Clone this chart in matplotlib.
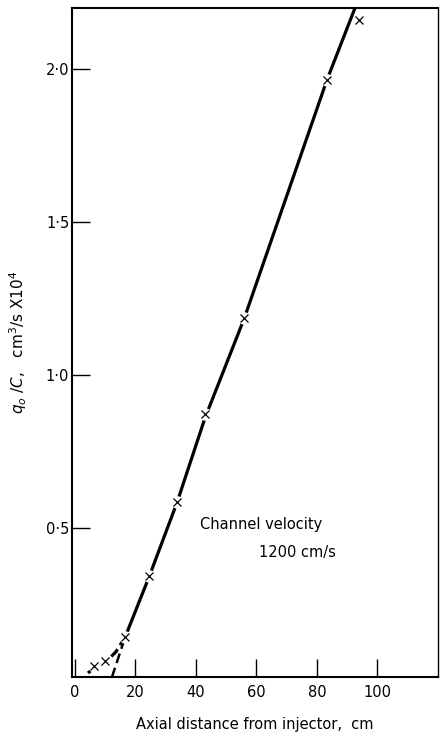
import numpy as np
import matplotlib
matplotlib.use('Agg')
from matplotlib import pyplot as plt

# measured points (x marks)
dist = [6.2, 10.0, 16.6, 24.6, 33.8, 43.0, 56.0, 83.3, 93.8]
flow = [0.049, 0.065, 0.144, 0.343, 0.585, 0.873, 1.186, 1.964, 2.16]

# drawn curves
main_x = [16.6, 24.6, 33.8, 43.0, 56.0, 83.3, 92.6]
main_y = [0.144, 0.343, 0.585, 0.86, 1.186, 1.964, 2.2]
low_x = [4.3, 6.2, 8.5, 11.0, 13.5, 16.6]
low_y = [0.026, 0.042, 0.055, 0.07, 0.095, 0.144]
ext_x = [12.2, 16.6]
ext_y = [0.012, 0.144]

xticks = [0, 20, 40, 60, 80, 100]
yticks = [0.5, 1.0, 1.5, 2.0]
ylabels = ['0·5', '1·0', '1·5', '2·0']

fig = plt.figure(figsize=(4.4, 7.33), dpi=100)
ax = fig.add_axes([0.1636, 0.0764, 0.8314, 0.9126])

ax.plot(main_x, main_y, color='black', lw=2.3, solid_capstyle='butt')
ax.plot(low_x, low_y, color='black', lw=2.3, dashes=(3, 1.5))
ax.plot(ext_x, ext_y, color='black', lw=1.8, dashes=(4, 2))
# gaps in the line around the marks
ax.plot(dist, flow, 'o', color='white', ms=9, mec='none')
ax.plot(dist, flow, 'x', color='black', ms=6, mew=0.9)

ax.set_xlim(-1, 120)
ax.set_ylim(0.013, 2.2)
ax.set_xticks(xticks)
ax.set_xticklabels([str(t) for t in xticks])
ax.set_yticks(yticks)
ax.set_yticklabels(ylabels)
ax.tick_params(direction='in', length=13, width=1, labelsize=10.5)
ax.tick_params(axis='x', pad=6)
ax.tick_params(axis='y', pad=2)
for s in ax.spines.values():
    s.set_linewidth(1.5)
ax.spines['right'].set_linewidth(1.0)

ax.text(41.5, 0.51, 'Channel velocity', fontsize=10.5, va='center')
ax.text(61, 0.42, '1200 cm/s', fontsize=10.5, va='center')

ax.set_ylabel(r'$q_o$ /$C$,   cm$^3$/s X10$^4$', fontsize=11, labelpad=12)
ax.set_xlabel('Axial distance from injector,  cm', fontsize=10.5, labelpad=12)

plt.savefig('out.png', dpi=100)
